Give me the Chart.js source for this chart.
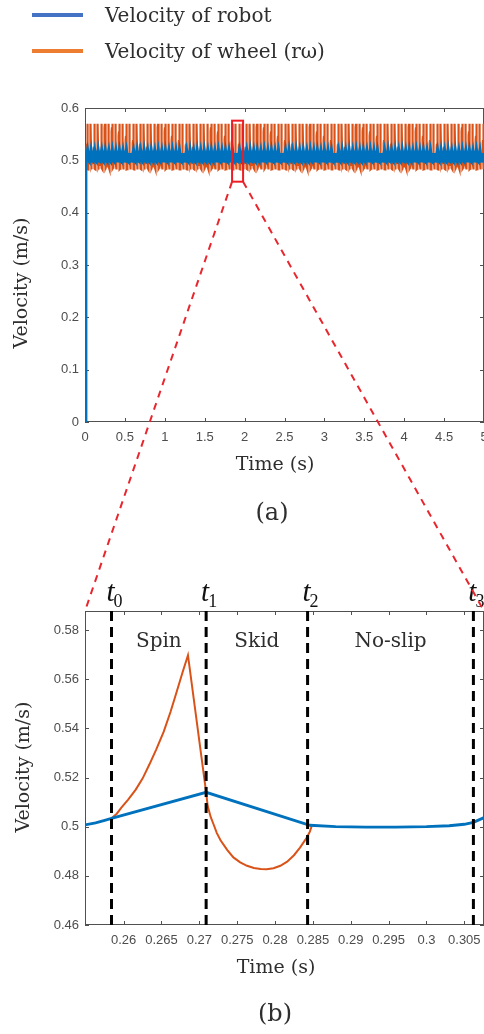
<!DOCTYPE html>
<html><head><meta charset="utf-8">
<script src="https://cdn.jsdelivr.net/npm/chart.js@4.4.1/dist/chart.umd.min.js"></script>
<style>
html,body{margin:0;padding:0;background:#fff;overflow:hidden;width:484px;height:1034px;}
#wrap{position:relative;width:484px;height:1034px;background:#fff;}
canvas{position:absolute;left:0;top:0;}
.t{position:absolute;font-family:"DejaVu Serif",serif;color:#2e2e2e;white-space:nowrap;line-height:1;}
.sw{position:absolute;left:32px;width:51px;height:4px;}
</style></head><body>
<div id="wrap">
<canvas id="ca" width="484" height="1034"></canvas>
<canvas id="cb" width="484" height="1034"></canvas>
<div class="sw" style="top:13px;background:#4472C4"></div>
<div class="t" id="lg0" style="left:105px;top:5px;font-size:20px"></div>
<div class="sw" style="top:49px;background:#ED7D31"></div>
<div class="t" id="lg1" style="left:105px;top:41px;font-size:20px"></div>
<div class="t" style="left:222px;width:100px;text-align:center;top:500px;font-size:24px">(a)</div>
<div class="t" style="left:225px;width:100px;text-align:center;top:1001px;font-size:24px">(b)</div>
</div>
<script>
// ---------- data ----------
const legendNames = ['Velocity of robot', 'Velocity of wheel (rω)'];
const topXTicks = [0, 0.5, 1, 1.5, 2, 2.5, 3, 3.5, 4, 4.5, 5];
const topYTicks = [0, 0.1, 0.2, 0.3, 0.4, 0.5, 0.6];
const botXTicks = [0.26, 0.265, 0.27, 0.275, 0.28, 0.285, 0.29, 0.295, 0.3, 0.305];
const botYTicks = [0.46, 0.48, 0.5, 0.52, 0.54, 0.56, 0.58];
const topXRange = [0, 5];
const topYRange = [0, 0.6];
const botXRange = [0.2549, 0.3076];
const botYRange = [0.46, 0.5878];
const phaseTimes = [0.2584, 0.2709, 0.2843, 0.3062];
const phaseNames = ['Spin', 'Skid', 'No-slip'];
const phaseSubs = ['0', '1', '2', '3'];
const phaseNameLevel = 0.5751;
const topPeriod = 0.0443;               // stripe spacing
const robotStart = [0, 0.5];           // robot velocity jumps from rest at t = 0
const robotTime = [0.2549, 0.2563, 0.2575, 0.2584, 0.2709, 0.2846, 0.2880, 0.2920, 0.2960, 0.3000, 0.3030, 0.3050, 0.3062, 0.3076];
const robotVel  = [0.5007, 0.5016, 0.5026, 0.5034, 0.5140, 0.5006, 0.5000, 0.4998, 0.4998, 0.5000, 0.5004, 0.5010, 0.5018, 0.5037];
const wheelTime = [0.2584, 0.2591, 0.2597, 0.2606, 0.2616, 0.2625, 0.2634, 0.2643, 0.2653, 0.2662, 0.2670, 0.2678, 0.2685,
                   0.2709, 0.2711, 0.2715, 0.2719, 0.2723, 0.2728, 0.2737, 0.2745, 0.2754, 0.2763, 0.2772, 0.2781, 0.2789,
                   0.2798, 0.2807, 0.2816, 0.2825, 0.2833, 0.2842, 0.2846, 0.2849];
const wheelVel  = [0.5034, 0.5053, 0.5078, 0.5110, 0.5151, 0.5196, 0.5253, 0.5314, 0.5387, 0.5468, 0.5548, 0.5630, 0.5698,
                   0.5140, 0.5085, 0.5040, 0.5008, 0.4975, 0.4945, 0.4905, 0.4875, 0.4855, 0.4841, 0.4832, 0.4828, 0.4827,
                   0.4831, 0.4841, 0.4858, 0.4884, 0.4915, 0.4956, 0.4980, 0.5008];
const zoomBoxX = [1.843, 1.981];
const zoomBoxY = [0.4592, 0.5758];

document.getElementById('lg0').textContent = legendNames[0];
document.getElementById('lg1').textContent = legendNames[1];

// ---------- build the repeating 5 s record from the zoomed cycle ----------
const period = phaseTimes[3] - phaseTimes[0];
const k = topPeriod / period;
const lastWheelT = wheelTime[wheelTime.length - 1];
const robotCycle = [], wheelCycle = [];
robotTime.forEach((t, i) => { if (t >= phaseTimes[0] && t < phaseTimes[3]) robotCycle.push([(t - phaseTimes[0]) * k, robotVel[i]]); });
wheelTime.forEach((t, i) => wheelCycle.push([(t - phaseTimes[0]) * k, wheelVel[i]]));
robotTime.forEach((t, i) => { if (t > lastWheelT && t < phaseTimes[3]) wheelCycle.push([(t - phaseTimes[0]) * k, robotVel[i]]); });
function tileCycle(cyc) {
  const out = [];
  let s = -topPeriod * 0.55;
  for (; s < topXRange[1]; s += topPeriod) {
    cyc.forEach(p => { const x = s + p[0]; if (x >= topXRange[0] && x <= topXRange[1]) out.push({x: x, y: p[1]}); });
  }
  return out;
}
const topRobot = [{x: 0, y: robotStart[0]}, {x: 0, y: robotStart[1]}].concat(tileCycle(robotCycle));
const topWheel = tileCycle(wheelCycle);
const botRobot = robotTime.map((t, i) => ({x: t, y: robotVel[i]}));
const botWheel = wheelTime.map((t, i) => ({x: t, y: wheelVel[i]}));

// ---------- helpers ----------
const BLUE = '#0072BD', ORANGE = '#D95319', AXIS = '#505050';
const fmt = v => String(parseFloat(Number(v).toFixed(4)));
function axisOpts(range, ticks, horiz, pad, size) {
  return {
    type: 'linear', min: range[0], max: range[1],
    grid: {display: false, drawTicks: false}, border: {display: false},
    afterBuildTicks: s => { s.ticks = ticks.map(v => ({value: v})); },
    afterFit: s => { if (horiz) s.height = size; else s.width = size; s.paddingLeft = 0; s.paddingRight = 0; s.paddingTop = 0; s.paddingBottom = 0; },
    ticks: {autoSkip: false, maxRotation: 0, minRotation: 0, padding: pad, color: '#4d4d4d',
            font: {family: '"Liberation Sans", Arial, sans-serif', size: 13}, callback: v => fmt(v)}
  };
}
function boxPlugin(xt, yt) {
  return {
    id: 'box' + xt.length,
    beforeDatasetsDraw(chart) {
      const {ctx, chartArea: a, scales: {x, y}} = chart;
      ctx.save();
      ctx.strokeStyle = AXIS; ctx.lineWidth = 1;
      ctx.strokeRect(a.left + 0.5, a.top + 0.5, a.right - a.left - 1, a.bottom - a.top - 1);
      ctx.beginPath();
      const L = 4;
      xt.forEach(v => { const p = Math.round(x.getPixelForValue(v)) + 0.5;
        ctx.moveTo(p, a.bottom); ctx.lineTo(p, a.bottom - L); ctx.moveTo(p, a.top); ctx.lineTo(p, a.top + L); });
      yt.forEach(v => { const p = Math.round(y.getPixelForValue(v)) + 0.5;
        ctx.moveTo(a.left, p); ctx.lineTo(a.left + L, p); ctx.moveTo(a.right, p); ctx.lineTo(a.right - L, p); });
      ctx.stroke();
      ctx.restore();
    }
  };
}
function titlePlugin(id, xText, xPos, yText, yPos) {
  return {
    id: id,
    afterDraw(chart) {
      const ctx = chart.ctx;
      ctx.save();
      ctx.fillStyle = '#2e2e2e';
      ctx.font = '19px "DejaVu Serif"';
      ctx.textAlign = 'center'; ctx.textBaseline = 'middle';
      ctx.fillText(xText, xPos[0], xPos[1]);
      ctx.translate(yPos[0], yPos[1]); ctx.rotate(-Math.PI / 2);
      ctx.fillText(yText, 0, 0);
      ctx.restore();
    }
  };
}

// ---------- chart (a) ----------
const chartA = new Chart(document.getElementById('ca'), {
  type: 'line',
  data: {datasets: [
    {label: legendNames[0], data: topRobot, borderColor: BLUE, borderWidth: 4, pointRadius: 0, tension: 0},
    {label: legendNames[1], data: topWheel, borderColor: ORANGE, borderWidth: 2.2, pointRadius: 0, tension: 0}
  ]},
  options: {
    responsive: false, animation: false, devicePixelRatio: 1,
    layout: {padding: {left: 0, top: 108, right: 0, bottom: 572}},
    plugins: {legend: {display: false}, tooltip: {enabled: false}},
    scales: {x: axisOpts(topXRange, topXTicks, true, 8, 40), y: axisOpts(topYRange, topYTicks, false, 6, 85)}
  },
  plugins: [boxPlugin(topXTicks, topYTicks),
    titlePlugin('ta', 'Time (s)', [275, 465], 'Velocity (m/s)', [22, 283]),
    {id: 'zoomBox', afterDatasetsDraw(chart) {
      const {ctx, scales: {x, y}} = chart;
      const x1 = x.getPixelForValue(zoomBoxX[0]), x2 = x.getPixelForValue(zoomBoxX[1]);
      const y1 = y.getPixelForValue(zoomBoxY[1]), y2 = y.getPixelForValue(zoomBoxY[0]);
      ctx.save(); ctx.strokeStyle = '#ee1c25'; ctx.lineWidth = 2;
      ctx.strokeRect(x1, y1, x2 - x1, y2 - y1); ctx.restore();
    }}]
});

// ---------- chart (b) ----------
const dashSets = phaseTimes.map(t => ({
  data: [{x: t, y: botYRange[0]}, {x: t, y: botYRange[1]}],
  borderColor: '#000', borderWidth: 3, borderDash: [10, 6], pointRadius: 0, tension: 0
}));
const chartB = new Chart(document.getElementById('cb'), {
  type: 'line',
  data: {datasets: dashSets.concat([
    {label: legendNames[0], data: botRobot, borderColor: BLUE, borderWidth: 2.8, pointRadius: 0, tension: 0},
    {label: legendNames[1], data: botWheel, borderColor: ORANGE, borderWidth: 2, pointRadius: 0, tension: 0}
  ])},
  options: {
    responsive: false, animation: false, devicePixelRatio: 1,
    layout: {padding: {left: 0, top: 611, right: 0, bottom: 69}},
    plugins: {legend: {display: false}, tooltip: {enabled: false}},
    scales: {x: axisOpts(botXRange, botXTicks, true, 8, 40), y: axisOpts(botYRange, botYTicks, false, 6, 85)}
  },
  plugins: [boxPlugin(botXTicks, botYTicks),
    titlePlugin('tb', 'Time (s)', [276, 968], 'Velocity (m/s)', [24, 767]),
    {id: 'annotB', afterDatasetsDraw(chart) {
      const {ctx, scales: {x, y}} = chart;
      ctx.save();
      ctx.fillStyle = '#2e2e2e';
      ctx.font = '20px "DejaVu Serif"'; ctx.textAlign = 'center'; ctx.textBaseline = 'middle';
      const yy = y.getPixelForValue(phaseNameLevel);
      phaseNames.forEach((n, i) => {
        const cx = (x.getPixelForValue(phaseTimes[i]) + x.getPixelForValue(phaseTimes[i + 1])) / 2;
        ctx.fillText(n, cx, yy);
      });
      ctx.fillStyle = '#111';
      phaseTimes.forEach((t, i) => {
        const px = x.getPixelForValue(t);
        ctx.textBaseline = 'alphabetic';
        ctx.textAlign = 'right'; ctx.font = 'italic 29px "Liberation Serif"';
        ctx.fillText('t', px + 3, 601);
        ctx.textAlign = 'left'; ctx.font = '18px "Liberation Serif"';
        ctx.fillText(phaseSubs[i], px + 2, 607);
      });
      ctx.restore();
    }},
    {id: 'link', afterDraw(chart) {
      const {ctx, chartArea: a} = chart;
      const ax = chartA.scales.x, ay = chartA.scales.y;
      const x1 = ax.getPixelForValue(zoomBoxX[0]), x2 = ax.getPixelForValue(zoomBoxX[1]);
      const yb = ay.getPixelForValue(zoomBoxY[0]);
      ctx.save();
      ctx.strokeStyle = '#e8262d'; ctx.lineWidth = 2; ctx.setLineDash([7, 6]);
      ctx.beginPath();
      ctx.moveTo(x1, yb); ctx.lineTo(a.left, a.top);
      ctx.moveTo(x2, yb); ctx.lineTo(a.right, a.top);
      ctx.stroke();
      ctx.restore();
    }}]
});
</script>
</body></html>
